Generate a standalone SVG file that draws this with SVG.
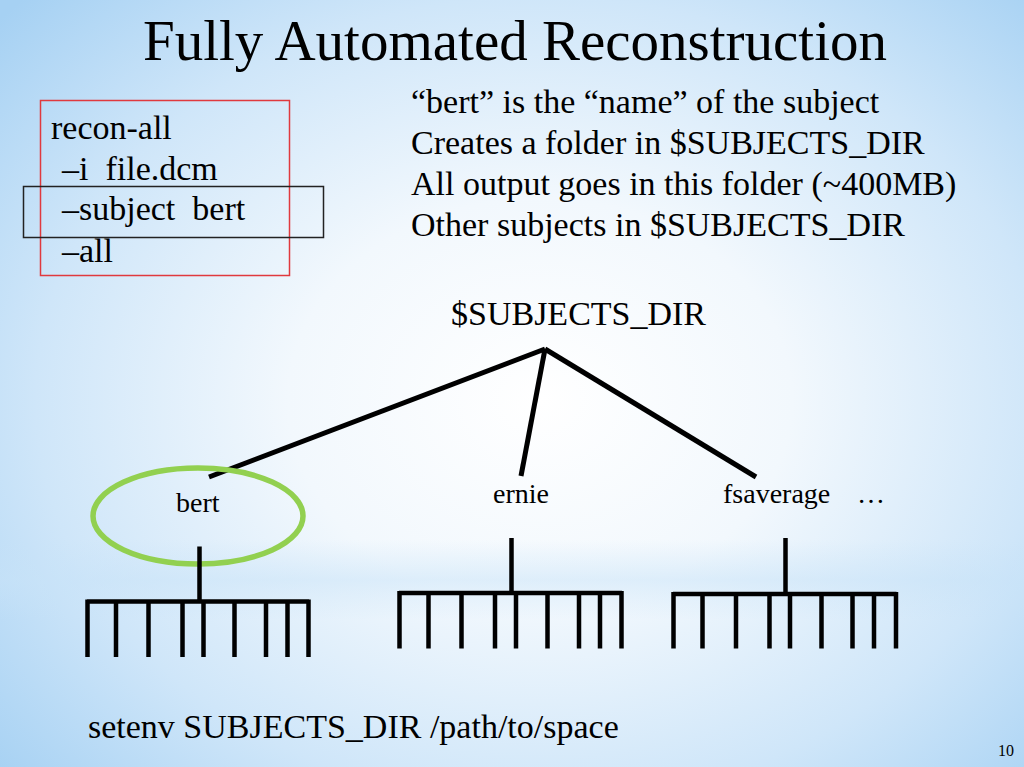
<svg xmlns="http://www.w3.org/2000/svg" width="1024" height="767" viewBox="0 0 1024 767">
<defs>
<radialGradient id="bg" cx="540" cy="400" r="720" gradientUnits="userSpaceOnUse" gradientTransform="translate(540 400) scale(1 0.8) translate(-540 -400)">
<stop offset="0" stop-color="#ffffff"/>
<stop offset="0.35" stop-color="#f2f8fd"/>
<stop offset="0.7" stop-color="#cfe6f9"/>
<stop offset="1" stop-color="#a6d1f3"/>
</radialGradient>
<linearGradient id="band" x1="0" y1="0" x2="0" y2="1">
<stop offset="0" stop-color="#c8e3f8" stop-opacity="0"/>
<stop offset="0.5" stop-color="#c8e3f8" stop-opacity="0.5"/>
<stop offset="1" stop-color="#c8e3f8" stop-opacity="0"/>
</linearGradient>
<style>
text{font-family:"Liberation Serif","Times New Roman",serif;fill:#000}
.t34{font-size:34px}
.t28{font-size:28px}
.ln{stroke:#000;stroke-width:5;stroke-linecap:butt;fill:none}
.comb{stroke:#000;stroke-width:4.5;fill:none}
</style>
</defs>
<rect x="0" y="0" width="1024" height="767" fill="url(#bg)"/>
<rect x="0" y="540" width="1024" height="80" fill="url(#band)"/>

<g id="title">
<text x="515" y="60" font-size="57" text-anchor="middle">Fully Automated Reconstruction</text>
</g>

<g id="command">
<rect x="40.5" y="100.5" width="249" height="175" fill="none" stroke="#e0393e" stroke-width="1.5"/>
<rect x="23.5" y="186.5" width="300" height="51" fill="none" stroke="#222" stroke-width="1.5"/>
<text class="t34" x="51" y="139">recon-all</text>
<text class="t34" x="62" y="180" xml:space="preserve">–i  file.dcm</text>
<text class="t34" x="62" y="220" xml:space="preserve">–subject  bert</text>
<text class="t34" x="62" y="262">–all</text>
</g>

<g id="notes">
<text class="t34" x="411" y="113">“bert” is the “name” of the subject</text>
<text class="t34" x="411" y="154">Creates a folder in $SUBJECTS_DIR</text>
<text class="t34" x="411" y="195">All output goes in this folder (~400MB)</text>
<text class="t34" x="411" y="236">Other subjects in $SUBJECTS_DIR</text>
</g>

<g id="root">
<text class="t34" x="451" y="325">$SUBJECTS_DIR</text>
</g>

<g id="connectors">
<line class="ln" x1="545" y1="349" x2="209" y2="477"/>
<line class="ln" x1="545" y1="349" x2="521" y2="476"/>
<line class="ln" x1="545" y1="349" x2="756" y2="477"/>
</g>

<g id="bert">
<ellipse cx="198" cy="516" rx="105" ry="48" fill="none" stroke="#92d050" stroke-width="5.5"/>
<text class="t28" x="176" y="512">bert</text>
<path class="comb" d="M199.5 546.5V601.5M87 601.5H309M87.5 599.5V657M116 599.5V657M148.5 599.5V657M182.5 599.5V657M203.5 599.5V657M234.5 599.5V657M266 599.5V657M287.5 599.5V657M308.5 599.5V657"/>
</g>

<g id="ernie">
<text class="t28" x="493" y="503">ernie</text>
<path class="comb" d="M511.5 538V593M399 593H622M399.5 591V648.5M428.5 591V648.5M461.5 591V648.5M495 591V648.5M516 591V648.5M547.5 591V648.5M579 591V648.5M600 591V648.5M621.5 591V648.5"/>
</g>

<g id="fsaverage">
<text class="t28" x="723" y="503">fsaverage</text>
<text class="t28" x="857" y="503">…</text>
<path class="comb" d="M785.5 538V594M673 594H896.5M673.5 592V648.5M702.5 592V648.5M736 592V648.5M769.5 592V648.5M790 592V648.5M821.5 592V648.5M852.5 592V648.5M874 592V648.5M896 592V648.5"/>
</g>

<g id="footer">
<text x="88" y="738" font-size="34">setenv SUBJECTS_DIR /path/to/space</text>
<text x="1014" y="756" font-size="16" text-anchor="end">10</text>
</g>
</svg>
